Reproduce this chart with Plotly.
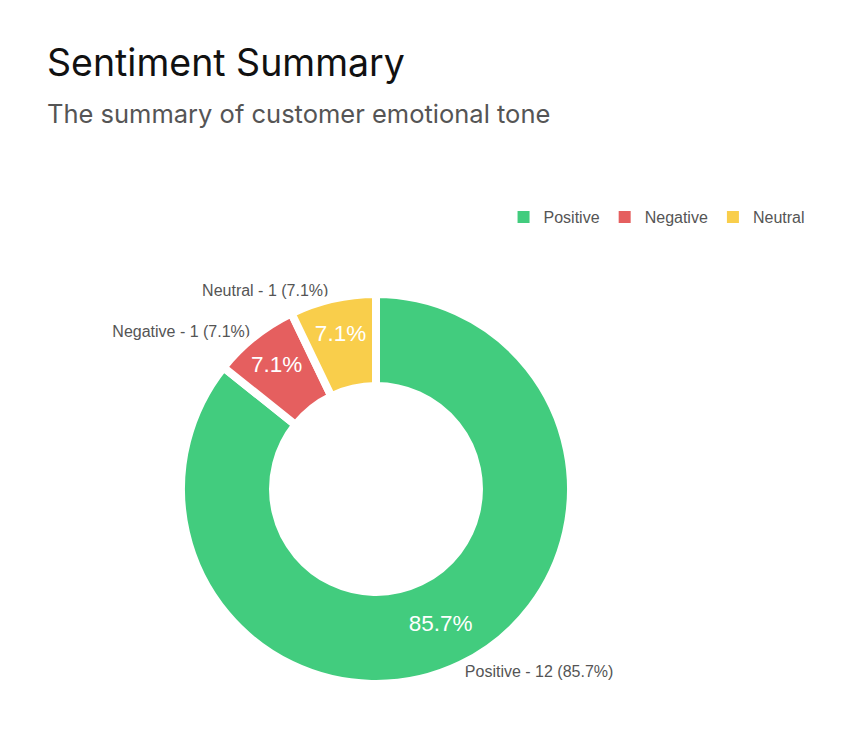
import plotly.graph_objects as go

labels = ["Positive", "Negative", "Neutral"]
values = [12, 1, 1]
colors = ["#42CC7E", "#E55F5F", "#F9CE4B"]

title_text = "Sentiment Summary"
subtitle_text = "The summary of customer emotional tone"

W, H = 850, 740
OFF = 8  # page body margin
cx, cy, R = 376 - OFF, 489 - OFF, 195
HOLE = 0.528
dom_x = [(cx - R) / W, (cx + R) / W]
dom_y = [(H - cy - R) / H, (H - cy + R) / H]

fig = go.Figure()

# bottom layer: outside labels + legend
fig.add_trace(go.Pie(
    labels=labels, values=values, hole=HOLE, sort=False,
    direction="clockwise", rotation=0,
    marker=dict(colors=colors, line=dict(width=0)),
    textposition="outside",
    texttemplate="%{label} - %{value} (%{percent:.1%})",
    outsidetextfont=dict(family="Liberation Sans, Arial", size=16, color="#555555"),
    domain=dict(x=dom_x, y=dom_y),
    hoverinfo="skip", showlegend=True,
))

# top layer: slices with white gaps and inside percentages
fig.add_trace(go.Pie(
    labels=labels, values=values, hole=HOLE, sort=False,
    direction="clockwise", rotation=0,
    marker=dict(colors=colors, line=dict(width=8, color="white")),
    textposition="inside", insidetextorientation="horizontal",
    texttemplate="%{percent:.1%}",
    insidetextfont=dict(family="Liberation Sans, Arial", size=22.5, color="white"),
    domain=dict(x=dom_x, y=dom_y),
    showlegend=False,
))

fig.update_layout(
    width=W, height=H,
    margin=dict(l=0, r=0, t=0, b=0),
    paper_bgcolor="white", plot_bgcolor="white",
    showlegend=True,
    legend=dict(
        orientation="h", x=0.583, xanchor="left", y=1 - (217 - OFF) / H, yanchor="middle",
        font=dict(family="Liberation Sans, Arial", size=16, color="#555555"),
        traceorder="normal",
    ),
    annotations=[
        dict(text=title_text, x=(47 - OFF - 2) / W, y=1 - (62 - OFF) / H, xref="paper", yref="paper",
             xanchor="left", yanchor="middle", showarrow=False,
             font=dict(family="Inter", size=37.5, color="#111111")),
        dict(text=subtitle_text, x=(47 - OFF - 2) / W, y=1 - (113 - OFF) / H, xref="paper", yref="paper",
             xanchor="left", yanchor="middle", showarrow=False,
             font=dict(family="Inter", size=25.5, color="#555555")),
    ],
)

fig.write_html("out.html")
